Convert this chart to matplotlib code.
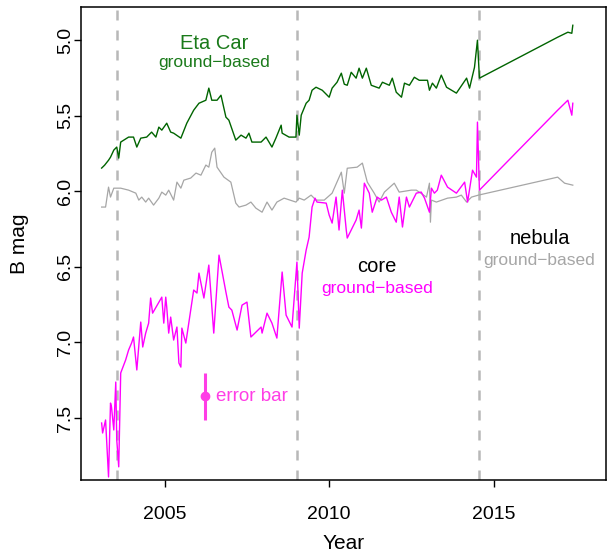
import numpy as np
import matplotlib
matplotlib.use('Agg')
import matplotlib.pyplot as plt

plt.rcParams['font.family'] = ['Liberation Sans', 'DejaVu Sans']

# Eta Car (whole object), ground-based B mag
etacar_year = [2003.08, 2003.17, 2003.29, 2003.35, 2003.45, 2003.54, 2003.60, 2003.66, 2003.90, 2004.05,
               2004.15, 2004.27, 2004.45, 2004.60, 2004.73, 2004.82, 2004.91, 2005.06, 2005.18, 2005.27,
               2005.49, 2005.67, 2005.88, 2006.04, 2006.25, 2006.34, 2006.43, 2006.59, 2006.71, 2006.86,
               2006.95, 2007.16, 2007.32, 2007.47, 2007.56, 2007.65, 2007.93, 2008.08, 2008.26, 2008.38,
               2008.54, 2008.57, 2008.78, 2008.99, 2009.02, 2009.09, 2009.15, 2009.30, 2009.39, 2009.48,
               2009.60, 2009.79, 2010.00, 2010.09, 2010.24, 2010.37, 2010.46, 2010.55, 2010.67, 2010.82,
               2010.91, 2011.01, 2011.13, 2011.28, 2011.52, 2011.62, 2011.83, 2011.92, 2012.04, 2012.20,
               2012.29, 2012.44, 2012.59, 2012.74, 2012.99, 2013.05, 2013.14, 2013.26, 2013.41, 2013.57,
               2013.87, 2014.18, 2014.27, 2014.42, 2014.51, 2014.57, 2016.95, 2017.26, 2017.38, 2017.41]
etacar_mag = [5.846, 5.827, 5.794, 5.774, 5.727, 5.707, 5.780, 5.674, 5.641, 5.641,
              5.707, 5.648, 5.641, 5.608, 5.641, 5.575, 5.595, 5.549, 5.608, 5.615,
              5.648, 5.549, 5.463, 5.417, 5.397, 5.317, 5.397, 5.397, 5.364, 5.509,
              5.529, 5.661, 5.628, 5.648, 5.615, 5.674, 5.674, 5.641, 5.707, 5.648,
              5.562, 5.615, 5.641, 5.641, 5.496, 5.628, 5.496, 5.417, 5.397, 5.331,
              5.311, 5.331, 5.377, 5.317, 5.278, 5.218, 5.291, 5.298, 5.212, 5.251,
              5.185, 5.251, 5.185, 5.298, 5.317, 5.278, 5.298, 5.251, 5.344, 5.377,
              5.284, 5.298, 5.245, 5.265, 5.265, 5.331, 5.284, 5.317, 5.231, 5.311,
              5.350, 5.251, 5.317, 5.179, 5.000, 5.251, 4.980, 4.947, 4.954, 4.901]

# nebula, ground-based
nebula_year = [2003.08, 2003.20, 2003.29, 2003.35, 2003.45, 2003.66, 2003.90, 2004.12, 2004.21, 2004.30,
               2004.42, 2004.51, 2004.66, 2004.82, 2004.91, 2005.03, 2005.12, 2005.27, 2005.37, 2005.49,
               2005.58, 2005.79, 2005.95, 2006.10, 2006.25, 2006.34, 2006.43, 2006.52, 2006.59, 2006.80,
               2007.01, 2007.16, 2007.26, 2007.47, 2007.62, 2007.77, 2007.96, 2008.11, 2008.26, 2008.41,
               2008.63, 2008.99, 2009.09, 2009.24, 2009.45, 2009.60, 2009.85, 2010.09, 2010.37, 2010.46,
               2010.55, 2010.85, 2011.01, 2011.16, 2011.37, 2011.52, 2011.68, 2011.98, 2012.13, 2012.50,
               2012.65, 2012.96, 2013.05, 2013.08, 2013.11, 2013.26, 2013.60, 2013.87, 2014.02, 2014.18,
               2014.33, 2014.54, 2016.95, 2017.16, 2017.41]
nebula_mag = [6.104, 6.104, 5.972, 6.038, 5.979, 5.979, 5.992, 6.012, 6.058, 6.038,
              6.071, 6.045, 6.091, 6.045, 6.005, 6.025, 5.992, 6.058, 5.939, 5.979,
              5.926, 5.912, 5.879, 5.893, 5.826, 5.840, 5.741, 5.714, 5.840, 5.906,
              5.939, 6.078, 6.104, 6.091, 6.071, 6.111, 6.138, 6.071, 6.124, 6.071,
              6.045, 6.071, 6.045, 6.058, 6.025, 6.058, 6.058, 6.012, 5.873, 6.012,
              5.847, 5.840, 5.813, 5.939, 6.012, 6.071, 6.005, 5.946, 6.005, 5.992,
              5.992, 6.038, 5.946, 6.204, 6.058, 6.071, 6.045, 6.038, 6.025, 6.071,
              6.038, 6.025, 5.906, 5.946, 5.959]

# core, ground-based
core_year = [2003.08, 2003.11, 2003.20, 2003.29, 2003.35, 2003.38, 2003.45, 2003.51, 2003.54, 2003.60,
             2003.66, 2003.81, 2003.90, 2003.99, 2004.05, 2004.15, 2004.27, 2004.33, 2004.42, 2004.51,
             2004.57, 2004.63, 2004.91, 2004.97, 2005.03, 2005.06, 2005.12, 2005.18, 2005.27, 2005.37,
             2005.43, 2005.49, 2005.52, 2005.64, 2005.88, 2005.98, 2006.04, 2006.19, 2006.34, 2006.49,
             2006.65, 2006.86, 2006.95, 2007.04, 2007.20, 2007.35, 2007.50, 2007.62, 2007.93, 2007.96,
             2008.11, 2008.26, 2008.41, 2008.57, 2008.69, 2008.87, 2009.02, 2009.09, 2009.18, 2009.30,
             2009.39, 2009.48, 2009.57, 2009.63, 2009.91, 2010.00, 2010.09, 2010.21, 2010.30, 2010.40,
             2010.52, 2010.55, 2010.82, 2010.91, 2010.98, 2011.07, 2011.22, 2011.31, 2011.46, 2011.59,
             2011.74, 2011.89, 2012.04, 2012.13, 2012.23, 2012.35, 2012.44, 2012.65, 2012.80, 2012.90,
             2013.05, 2013.11, 2013.20, 2013.29, 2013.41, 2013.60, 2013.87, 2014.12, 2014.21, 2014.36,
             2014.48, 2014.51, 2014.57, 2016.95, 2017.26, 2017.38, 2017.41]
core_mag = [7.533, 7.599, 7.513, 7.890, 7.401, 7.427, 7.579, 7.262, 7.645, 7.823,
            7.202, 7.116, 7.050, 7.004, 6.964, 7.182, 6.865, 7.030, 6.938, 6.872,
            6.706, 6.806, 6.700, 6.872, 6.700, 6.766, 6.938, 6.832, 6.984, 6.898,
            7.136, 7.163, 6.905, 7.004, 6.653, 6.673, 6.541, 6.706, 6.488, 6.938,
            6.422, 6.667, 6.766, 6.786, 6.918, 6.753, 6.733, 6.964, 6.898, 6.938,
            6.806, 6.872, 6.971, 6.534, 6.819, 6.898, 6.468, 6.905, 6.541, 6.389,
            6.303, 6.104, 6.045, 6.071, 6.078, 6.157, 6.210, 6.038, 6.256, 5.992,
            6.256, 6.309, 6.190, 6.124, 6.243, 5.946, 6.012, 6.138, 6.038, 6.058,
            6.038, 6.138, 6.204, 6.038, 6.236, 6.038, 6.104, 6.012, 6.005, 6.045,
            6.138, 5.979, 6.012, 5.992, 5.893, 5.972, 6.012, 5.939, 6.071, 5.860,
            5.906, 5.542, 5.992, 5.463, 5.397, 5.496, 5.417]

periastron = [2003.54, 2009.03, 2014.55]
err_year, err_mag, err_size = 2006.22, 7.355, 0.155

fig = plt.figure(figsize=(6.13, 5.54), dpi=100)
ax = fig.add_axes([0.132, 0.1336, 0.8566, 0.8538])

for p in periastron:
    ax.axvline(p, color='#b8b8b8', lw=1.8, ls=(0, (4, 4)), zorder=1)

ax.plot(nebula_year, nebula_mag, color='#a6a6a6', lw=0.9, zorder=2)
ax.plot(etacar_year, etacar_mag, color='#006400', lw=1.0, zorder=3)
ax.plot(core_year, core_mag, color='#ff00ff', lw=1.0, zorder=4)

ax.errorbar([err_year], [err_mag], yerr=[err_size], fmt='o', color='#ff3ee6',
            ms=6, elinewidth=2.2, capsize=0, zorder=5)
ax.text(err_year + 0.33, err_mag, 'error bar', color='#ff3ee6', fontsize=13.5,
        ha='left', va='center')

ax.text(2006.5, 5.02, 'Eta Car', color='#1a7a1a', fontsize=14.5, ha='center', va='center')
ax.text(2006.5, 5.15, 'ground\u2212based', color='#1a7a1a', fontsize=12.5, ha='center', va='center')
ax.text(2011.45, 6.5, 'core', color='black', fontsize=14.5, ha='center', va='center')
ax.text(2011.45, 6.645, 'ground\u2212based', color='#ff00ff', fontsize=12.5, ha='center', va='center')
ax.text(2016.4, 6.31, 'nebula', color='black', fontsize=14.5, ha='center', va='center')
ax.text(2016.4, 6.455, 'ground\u2212based', color='#a6a6a6', fontsize=12.5, ha='center', va='center')

ax.set_xlim(2002.45, 2018.42)
ax.set_ylim(7.91, 4.78)
ax.set_xticks([2005, 2010, 2015])
ax.set_yticks([5.0, 5.5, 6.0, 6.5, 7.0, 7.5])
ax.set_yticklabels(['5.0', '5.5', '6.0', '6.5', '7.0', '7.5'], rotation=90, va='center')
ax.tick_params(axis='both', labelsize=14, length=5, width=1, direction='out')
ax.tick_params(axis='x', pad=14)
ax.tick_params(axis='y', pad=0)
for s in ax.spines.values():
    s.set_linewidth(1.1)

ax.set_xlabel('Year', fontsize=15, labelpad=8)
ax.set_ylabel('B mag', fontsize=15, labelpad=20)

fig.savefig('out.png', dpi=100)
